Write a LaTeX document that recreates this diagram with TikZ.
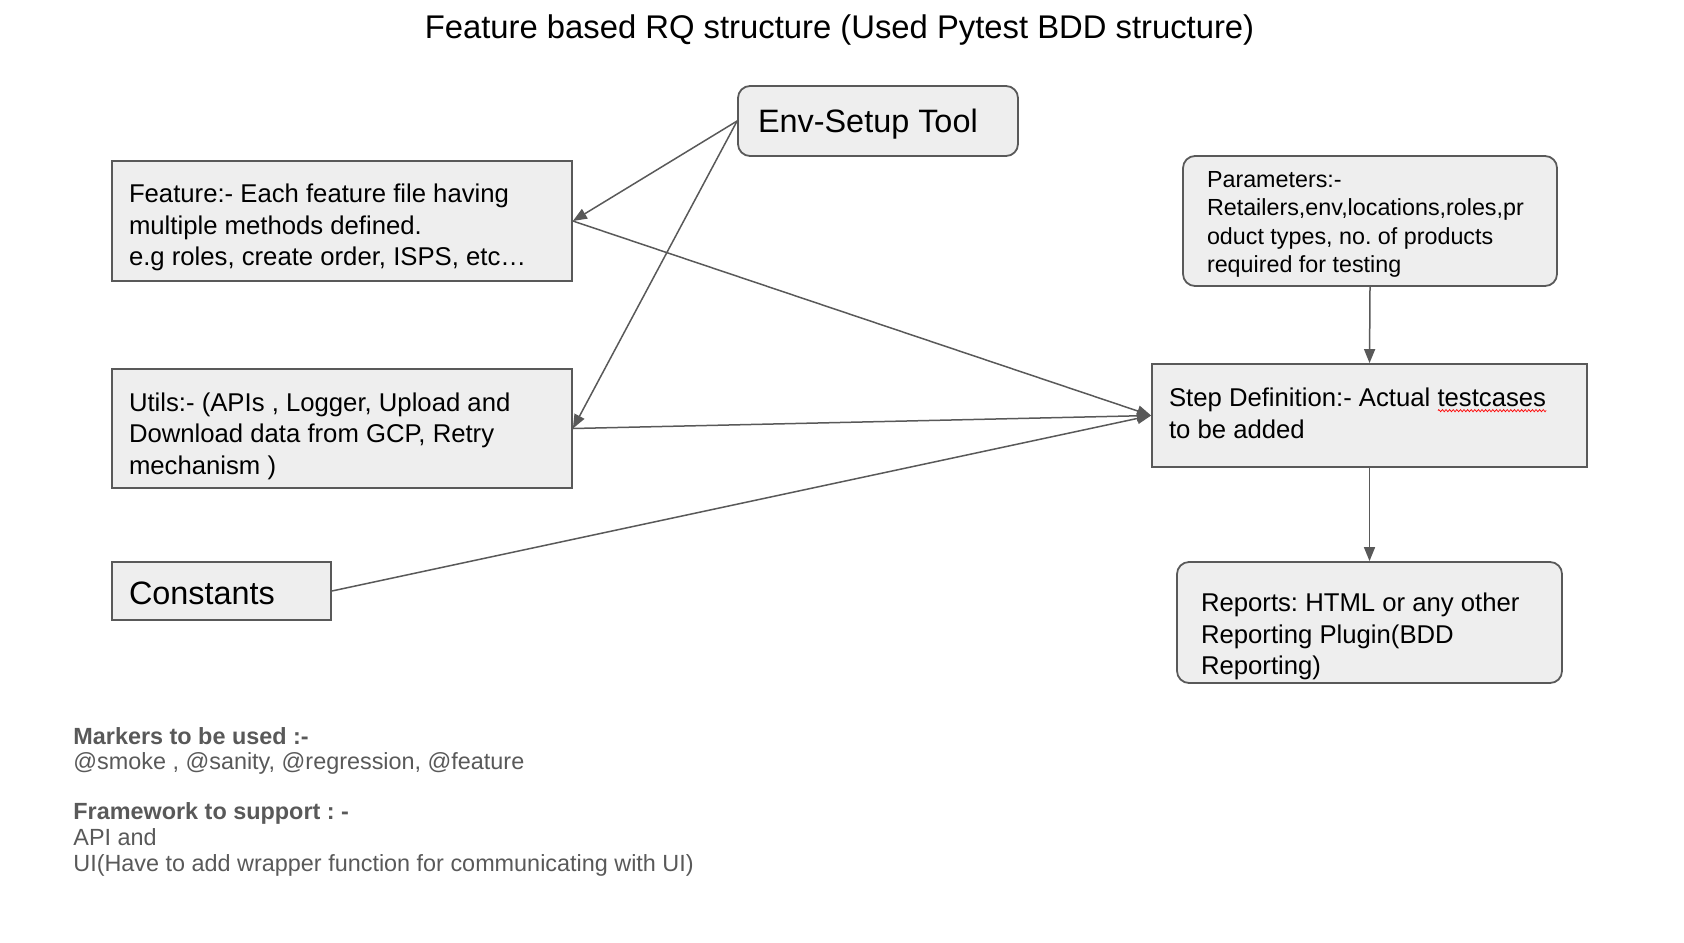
\documentclass[tikz,border=0pt]{standalone}
\usepackage{fontspec}
\setmainfont{Liberation Sans}
\usetikzlibrary{arrows.meta,decorations.pathmorphing}
\frenchspacing

\definecolor{boxfill}{HTML}{EEEEEE}
\definecolor{boxline}{HTML}{595959}
\definecolor{notegray}{HTML}{595959}

% red wavy underline, as in the screenshot
\newlength\wavelen
\newcommand\spellwave[1]{\settowidth\wavelen{#1}\rlap{#1}\raisebox{-2.6pt}{\tikz\draw[red,line width=0.35pt,decorate,
  decoration={zigzag,amplitude=0.55pt,segment length=1.8pt}] (0pt,0pt) -- (\wavelen,0pt);}}
% box text: lowered by #1, set #2 wide
\newcommand\boxtext[3]{\raisebox{-#1}[\height][\depth]{\parbox{#2}{\raggedright #3}}}

\begin{document}
\begin{tikzpicture}[x=0.5pt,y=-0.5pt,
  box/.style={draw=boxline,fill=boxfill,line width=0.9pt,inner ysep=0pt,
    font=\fontsize{12.85pt}{15.8pt}\selectfont},
  roundbox/.style={box,rounded corners=6pt},
  bigtext/.style={font=\fontsize{16.2pt}{19pt}\selectfont},
  smalltext/.style={font=\fontsize{11.65pt}{14.2pt}\selectfont},
  note/.style={align=left,inner sep=0pt,text=notegray,font=\fontsize{11.7pt}{12.9pt}\selectfont},
  link/.style={draw=boxline,line width=0.75pt,-{Triangle[length=7pt,width=5.5pt]}}]
\useasboundingbox (0,0) rectangle (1684,942);

\node [font=\fontsize{16.4pt}{19pt}\selectfont] (title) at (839.5,30) {Feature based RQ structure (Used Pytest BDD structure)};

% left column
\node [roundbox,bigtext,minimum width=140pt,minimum height=35pt,inner xsep=10pt] (env) at (878,121)
  {\boxtext{1.6pt}{120pt}{Env-Setup Tool}};
\node [box,minimum width=230pt,minimum height=60pt,inner xsep=8.5pt] (feature) at (342,221)
  {\boxtext{3.2pt}{213pt}{Feature:- Each feature file having\\multiple methods defined.\\e.g roles, create order, ISPS, etc\ldots}};
\node [box,minimum width=230pt,minimum height=59.5pt,inner xsep=8.5pt] (utils) at (342,428.5)
  {\boxtext{3.75pt}{213pt}{Utils:- (APIs , Logger, Upload and\\Download data from GCP, Retry\\mechanism )}};
\node [box,bigtext,minimum width=109.5pt,minimum height=29pt,inner xsep=8.5pt] (constants) at (221.5,591)
  {\boxtext{1pt}{92.5pt}{Constants}};

% right column
\node [roundbox,smalltext,minimum width=187pt,minimum height=65pt,inner xsep=12pt] (params) at (1370,221)
  {\boxtext{1.6pt}{163pt}{Parameters:-\\Retailers,env,locations,roles,pr\\oduct types, no. of products\\required for testing}};
\node [box,minimum width=217.5pt,minimum height=51.5pt,inner xsep=8.5pt] (stepdef) at (1369.5,415.5)
  {\boxtext{-1pt}{200.5pt}{Step Definition:- Actual \spellwave{testcases}\\to be added}};
\node [roundbox,minimum width=192.5pt,minimum height=60.5pt,inner xsep=12pt] (reports) at (1369.5,622.5)
  {\boxtext{7pt}{168.5pt}{Reports: HTML or any other\\Reporting Plugin(BDD\\Reporting)}};

\draw [link] (env.west) -- (feature.east);
\draw [link] (env.west) -- (utils.east);
\draw [link] (feature.east) -- (stepdef.west);
\draw [link] (utils.east) -- (stepdef.west);
\draw [link] (constants.east) -- (stepdef.west);
\draw [link] (params.south) -- (stepdef.north);
\draw [link] (stepdef.south) -- (reports.north);

% notes
\node [note,anchor=west] (markers) at (73,751) {\textbf{Markers to be used :-}\\@smoke , @sanity, @regression, @feature};
\node [note,anchor=west] (framework) at (73,839.5) {\textbf{Framework to support : -}\\API and\\UI(Have to add wrapper function for communicating with UI)};

\end{tikzpicture}
\end{document}
